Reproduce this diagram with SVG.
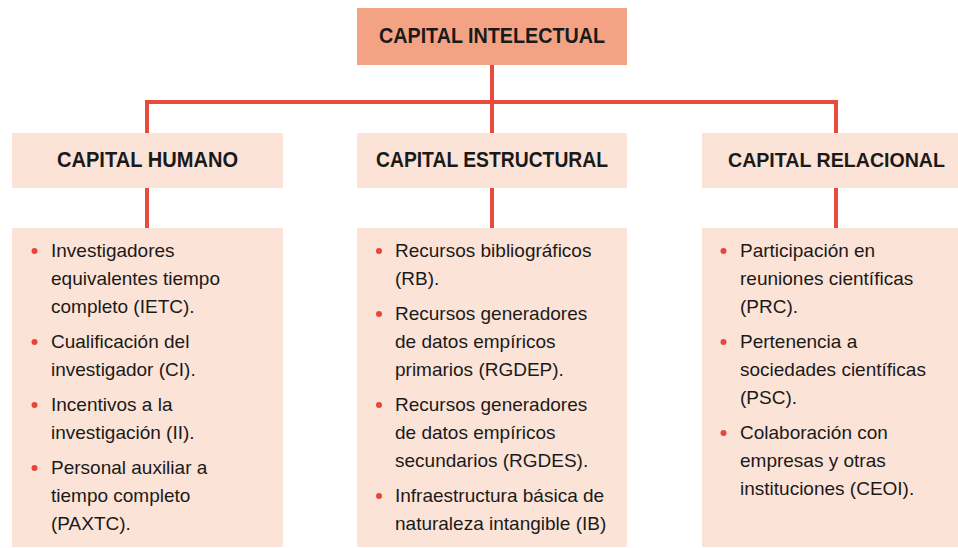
<svg xmlns="http://www.w3.org/2000/svg" width="958" height="548" viewBox="0 0 958 548">
<style>
.top{fill:#F3A384}
.box{fill:#FCE3D7}
.h{font-family:"Liberation Sans",Arial,sans-serif;font-weight:bold;font-size:22px;fill:#1a1a1a;text-anchor:middle}
.t{font-family:"Liberation Sans",Arial,sans-serif;font-size:19px;fill:#1a1a1a}
.b{fill:#E8463B}
.c{fill:none;stroke:#E84A3C;stroke-width:4;stroke-linejoin:miter;stroke-linecap:butt}
</style>
<rect width="958" height="548" fill="#ffffff"/>
<g id="connectors">
<path class="c" d="M492 65V102M147 133V102H836V133M492 102V133"/>
<path class="c" d="M147 188V228M492 188V228M836 188V228"/>
</g>
<g id="capital-intelectual">
<rect class="top" x="357" y="8" width="270" height="57"/>
<text class="h" x="492" y="43" textLength="226" lengthAdjust="spacingAndGlyphs">CAPITAL INTELECTUAL</text>
</g>
<g id="capital-humano">
<rect class="box" x="12" y="133" width="271" height="55"/>
<text class="h" x="147.5" y="167" textLength="181" lengthAdjust="spacingAndGlyphs">CAPITAL HUMANO</text>
</g>
<g id="capital-estructural">
<rect class="box" x="357" y="133" width="270" height="55"/>
<text class="h" x="492" y="167" textLength="232" lengthAdjust="spacingAndGlyphs">CAPITAL ESTRUCTURAL</text>
</g>
<g id="capital-relacional">
<rect class="box" x="702" y="133" width="256" height="55"/>
<text class="h" x="836.5" y="167" style="font-size:20px" textLength="217" lengthAdjust="spacingAndGlyphs">CAPITAL RELACIONAL</text>
</g>
<g id="humano-lista">
<rect class="box" x="12" y="228" width="271" height="319"/>
<circle class="b" cx="34.5" cy="251" r="3"/>
<circle class="b" cx="34.5" cy="342" r="3"/>
<circle class="b" cx="34.5" cy="405" r="3"/>
<circle class="b" cx="34.5" cy="468" r="3"/>
<text class="t" x="51" y="257">Investigadores</text>
<text class="t" x="51" y="285">equivalentes tiempo</text>
<text class="t" x="51" y="313">completo (IETC).</text>
<text class="t" x="51" y="348">Cualificación del</text>
<text class="t" x="51" y="376">investigador (CI).</text>
<text class="t" x="51" y="411">Incentivos a la</text>
<text class="t" x="51" y="439">investigación (II).</text>
<text class="t" x="51" y="474">Personal auxiliar a</text>
<text class="t" x="51" y="502">tiempo completo</text>
<text class="t" x="51" y="530">(PAXTC).</text>
</g>
<g id="estructural-lista">
<rect class="box" x="357" y="228" width="270" height="319"/>
<circle class="b" cx="379" cy="251" r="3"/>
<circle class="b" cx="379" cy="314" r="3"/>
<circle class="b" cx="379" cy="405" r="3"/>
<circle class="b" cx="379" cy="496" r="3"/>
<text class="t" x="395" y="257">Recursos bibliográficos</text>
<text class="t" x="395" y="285">(RB).</text>
<text class="t" x="395" y="320">Recursos generadores</text>
<text class="t" x="395" y="348">de datos empíricos</text>
<text class="t" x="395" y="376">primarios (RGDEP).</text>
<text class="t" x="395" y="411">Recursos generadores</text>
<text class="t" x="395" y="439">de datos empíricos</text>
<text class="t" x="395" y="467">secundarios (RGDES).</text>
<text class="t" x="395" y="502">Infraestructura básica de</text>
<text class="t" x="395" y="530">naturaleza intangible (IB)</text>
</g>
<g id="relacional-lista">
<rect class="box" x="702" y="228" width="256" height="319"/>
<circle class="b" cx="723.5" cy="251" r="3"/>
<circle class="b" cx="723.5" cy="342" r="3"/>
<circle class="b" cx="723.5" cy="433" r="3"/>
<text class="t" x="740" y="257">Participación en</text>
<text class="t" x="740" y="285">reuniones científicas</text>
<text class="t" x="740" y="313">(PRC).</text>
<text class="t" x="740" y="348">Pertenencia a</text>
<text class="t" x="740" y="376">sociedades científicas</text>
<text class="t" x="740" y="404">(PSC).</text>
<text class="t" x="740" y="439">Colaboración con</text>
<text class="t" x="740" y="467">empresas y otras</text>
<text class="t" x="740" y="495">instituciones (CEOI).</text>
</g>
</svg>
